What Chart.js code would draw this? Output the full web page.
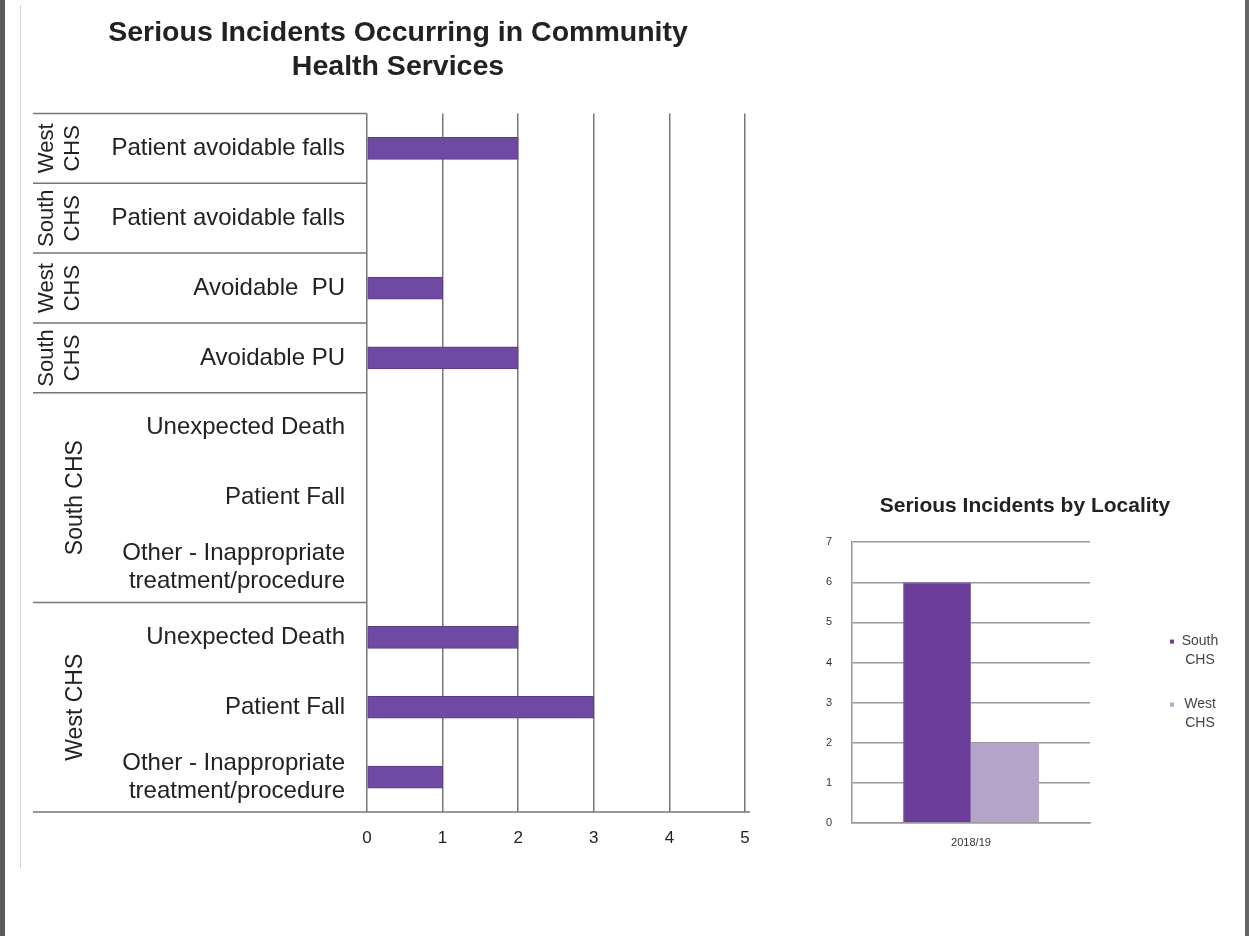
<!DOCTYPE html>
<html>
<head>
<meta charset="utf-8">
<title>Serious Incidents</title>
<script src="https://cdn.jsdelivr.net/npm/chart.js@4.4.1/dist/chart.umd.min.js"></script>
<style>
  body { margin: 0; background: #fff; width: 1249px; height: 936px; position: relative; overflow: hidden; }
  #edgeL { position: absolute; left: 0; top: 0; width: 5px; height: 936px; background: #5c5c5c; }
  #edgeR { position: absolute; left: 1245px; top: 0; width: 4px; height: 936px; background: #666; }
  #frame { position: absolute; left: 20px; top: 5px; width: 0; height: 863px; border-left: 1px solid #d2d2d2; }
  #mainChart { position: absolute; left: 0; top: 0; }
  #localityChart { position: absolute; left: 815px; top: 480px; }
</style>
</head>
<body>
<div id="edgeL"></div>
<div id="edgeR"></div>
<div id="frame"></div>
<canvas id="mainChart" width="790" height="870"></canvas>
<canvas id="localityChart" width="420" height="380"></canvas>
<script>
// main chart data (top to bottom)
const categories = ['Patient avoidable falls', 'Patient avoidable falls', 'Avoidable  PU', 'Avoidable PU',
  'Unexpected Death', 'Patient Fall', ['Other - Inappropriate', 'treatment/procedure'],
  'Unexpected Death', 'Patient Fall', ['Other - Inappropriate', 'treatment/procedure']]
const incidents = [2, 0, 1, 2, 0, 0, 0, 2, 3, 1]
const groupNames = ['West CHS', 'South CHS', 'West CHS', 'South CHS', 'South CHS', 'West CHS']
const groupSizes = [1, 1, 1, 1, 3, 3]
const xTicks = [0, 1, 2, 3, 4, 5]

// small chart data
const localityYears = ['2018/19']
const localityNames = ['South CHS', 'West CHS']
const southCHS = [6]
const westCHS = [2]

const textColor = '#222'
const gridColor = '#777'
const boxLeft = 33
const fontFam = '"Liberation Sans", Arial, sans-serif'

// group labels + the boxed lines on the left side
const groupBoxes = {
  id: 'groupBoxes',
  afterDraw(chart) {
    const ctx = chart.ctx
    const y = chart.scales.y
    const area = chart.chartArea
    const edge = i => y.getPixelForValue(i - 0.5)
    ctx.save()
    ctx.strokeStyle = gridColor
    ctx.lineWidth = 1.5
    ctx.beginPath()
    ctx.moveTo(boxLeft, area.top); ctx.lineTo(area.left, area.top)
    let start = 0
    groupSizes.forEach(n => {
      const b = edge(start + n)
      ctx.moveTo(boxLeft, b)
      ctx.lineTo(start + n === categories.length ? area.right + 5 : area.left, b)
      start += n
    })
    ctx.stroke()

    ctx.fillStyle = textColor
    ctx.textAlign = 'center'
    ctx.textBaseline = 'middle'
    start = 0
    groupSizes.forEach((n, gi) => {
      const cy = (edge(start) + edge(start + n)) / 2
      ctx.save()
      if (n === 1) {
        ctx.font = '22px ' + fontFam
        const parts = groupNames[gi].split(' ')
        ctx.translate(47, cy); ctx.rotate(-Math.PI / 2)
        ctx.fillText(parts[0], 0, 0)
        ctx.fillText(parts[1], 0, 26)
      } else {
        ctx.font = '23px ' + fontFam
        ctx.translate(76, cy); ctx.rotate(-Math.PI / 2)
        ctx.fillText(groupNames[gi], 0, 0)
      }
      ctx.restore()
      start += n
    })
    ctx.restore()
  }
}

new Chart(document.getElementById('mainChart'), {
  type: 'bar',
  data: {
    labels: categories,
    datasets: [{
      data: incidents,
      backgroundColor: '#6e4aa2',
      borderColor: '#5b3a8c',
      borderWidth: 1,
      borderSkipped: false,
      barThickness: 22
    }]
  },
  options: {
    indexAxis: 'y',
    responsive: false,
    animation: false,
    // left padding keeps the title centred like the original; the label box is drawn from boxLeft
    layout: { padding: { left: 51, right: 45, top: 0, bottom: 0 } },
    plugins: {
      legend: { display: false },
      tooltip: { enabled: false },
      title: {
        display: true,
        text: ['Serious Incidents Occurring in Community', 'Health Services'],
        color: textColor,
        font: { family: fontFam, size: 28.5, weight: 'bold', lineHeight: 1.2 },
        padding: { top: 16, bottom: 29 }
      }
    },
    scales: {
      x: {
        min: xTicks[0],
        max: xTicks[xTicks.length - 1],
        ticks: { stepSize: 1, padding: 16, color: textColor, font: { family: fontFam, size: 17 } },
        grid: { color: gridColor, lineWidth: 1.5, drawTicks: false },
        border: { display: false },
        afterFit(s) { s.height = 58 }
      },
      y: {
        ticks: { padding: 22, color: textColor, autoSkip: false,
          font: { family: fontFam, size: 24, lineHeight: 1.17 } },
        grid: { display: false, drawTicks: false },
        border: { display: false },
        afterFit(s) { s.width = 367 - 51 }
      }
    }
  },
  plugins: [groupBoxes]
})

// legend with two-line labels on the right of the small chart
const sideLegend = {
  id: 'sideLegend',
  afterDraw(chart) {
    const ctx = chart.ctx
    const area = chart.chartArea
    const mid = (area.top + area.bottom) / 2
    ctx.save()
    ctx.font = '14px ' + fontFam
    ctx.textAlign = 'center'
    ctx.textBaseline = 'middle'
    chart.data.datasets.forEach((ds, i) => {
      const top = mid - 41 + i * 63
      const parts = ds.label.split(' ')
      ctx.fillStyle = ds.backgroundColor
      ctx.fillRect(area.right + 80, top - 2, 4, 4)
      ctx.fillStyle = '#444'
      parts.forEach((p, k) => ctx.fillText(p, area.right + 110, top + k * 19))
    })
    ctx.restore()
  }
}

new Chart(document.getElementById('localityChart'), {
  type: 'bar',
  data: {
    labels: localityYears,
    datasets: [
      { label: localityNames[0], data: southCHS, backgroundColor: '#6a3d98', borderColor: '#8a6ab0', borderWidth: 1 },
      { label: localityNames[1], data: westCHS, backgroundColor: '#b4a5c8' }
    ]
  },
  options: {
    responsive: false,
    animation: false,
    barPercentage: 1,
    categoryPercentage: 0.571,
    layout: { padding: 0 },
    plugins: {
      legend: { display: false },
      tooltip: { enabled: false },
      title: {
        display: true,
        text: 'Serious Incidents by Locality',
        color: textColor,
        font: { family: fontFam, size: 21, weight: 'bold', lineHeight: 1.2 },
        padding: { top: 14, bottom: 23 }
      }
    },
    scales: {
      x: {
        ticks: { padding: 13, color: '#333', font: { family: fontFam, size: 11 } },
        grid: { display: false, drawTicks: false },
        border: { color: '#999', width: 1.5 },
        afterFit(s) { s.height = 37 }
      },
      y: {
        min: 0,
        max: 7,
        ticks: { stepSize: 1, padding: 20, color: '#333', font: { family: fontFam, size: 11 } },
        grid: { color: '#999', lineWidth: 1.5, drawTicks: false },
        border: { color: '#999', width: 1.5 },
        afterFit(s) { s.width = 37 }
      },
      legendSpace: {
        type: 'linear',
        axis: 'y',
        position: 'right',
        grid: { display: false, drawTicks: false },
        ticks: { display: false },
        border: { display: false },
        afterFit(s) { s.width = 145 }
      }
    }
  },
  plugins: [sideLegend]
})
</script>
</body>
</html>
